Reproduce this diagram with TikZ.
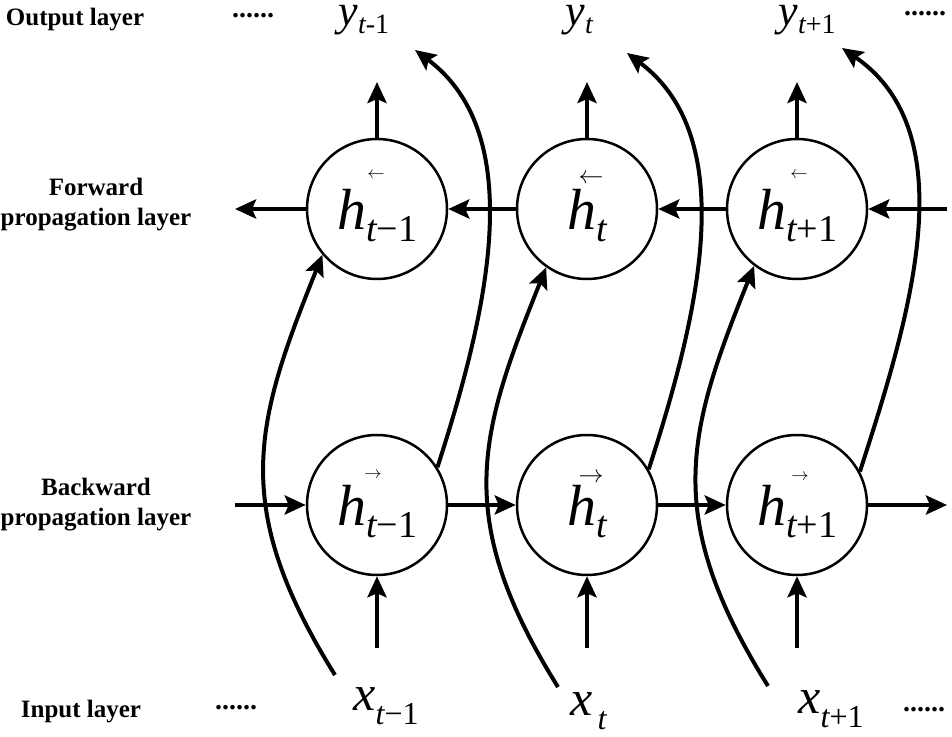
\documentclass[tikz,border=0pt]{standalone}
\usepackage{fontspec}
\setmainfont{Liberation Serif}[
  BoldFont=Liberation Serif Bold,
  ItalicFont=Liberation Serif Italic]
\usetikzlibrary{arrows.meta,positioning}

\newcommand{\hsym}[1]{\rule{0pt}{54pt}{\fontsize{58}{58}\selectfont\itshape h}\raisebox{-12pt}{\fontsize{38}{38}\selectfont #1}}
\newcommand{\xsym}[1]{{\fontsize{50}{50}\selectfont\itshape x}\raisebox{-14pt}{\fontsize{32}{32}\selectfont #1}}
\newcommand{\ysym}[1]{{\fontsize{44}{44}\selectfont\itshape y}\raisebox{-8pt}{\fontsize{28}{28}\selectfont #1}}

\tikzset{
  unit/.style={circle, draw, line width=2.5pt, minimum size=140pt, inner sep=0pt},
  flow/.style={line width=4.5pt, -{Stealth[length=21pt,width=19pt,inset=4pt]}},
  skip/.style={line width=4pt, -{Stealth[length=21pt,width=19pt,inset=4pt]}},
  layername/.style={font=\bfseries\fontsize{25}{30}\selectfont, align=center},
  dots/.style={font=\bfseries\fontsize{28}{28}\selectfont, inner sep=0pt},
  dirmark/.style={inner sep=0pt},
}

\begin{document}
\begin{tikzpicture}[x=1pt,y=1pt]
\useasboundingbox (0,0) rectangle (952,736);

\node[layername] (outname) at (75,716) {Output layer};
\node[layername] (fwdname) at (96,531) {Forward\\propagation layer};
\node[layername] (bwdname) at (96,231) {Backward\\propagation layer};
\node[layername] (inname) at (81,24) {Input layer};

\node[dots] (dtl) at (253,720) {......};
\node[dots] (dtr) at (925,722) {......};
\node[dots] (dbl) at (236,28) {......};
\node[dots] (dbr) at (924,26) {......};

\node[anchor=base west] (y1) at (335,710) {\ysym{{\itshape t}-1}};
\node[anchor=base west] (y2) at (562,710) {\ysym{\itshape t}};
\node[anchor=base west] (y3) at (775,710) {\ysym{{\itshape t}+1}};

\node[anchor=base west] (x1) at (350,26) {\xsym{{\itshape t}−1}};
\node[anchor=base west] (x2) at (567,21) {\xsym{\kern5pt\itshape t}};
\node[anchor=base west] (x3) at (795,23) {\xsym{{\itshape t}+1}};

\node[unit] (f1) at (377,527) {\hsym{{\itshape t}−1}};
\node[unit] (f2) at (587,527) {\hsym{\itshape t}};
\node[unit] (f3) at (797,527) {\hsym{{\itshape t}+1}};
\node[unit] (b1) at (377,231) {\hsym{{\itshape t}−1}};
\node[unit] (b2) at (587,231) {\hsym{\itshape t}};
\node[unit] (b3) at (797,231) {\hsym{{\itshape t}+1}};

\node[dirmark, font=\fontsize{19}{19}\selectfont] (fm1) at (376,561) {$\leftarrow$};
\node[dirmark, font=\fontsize{27}{27}\selectfont] (fm2) at (591,557) {$\leftarrow$};
\node[dirmark, font=\fontsize{16}{16}\selectfont] (fm3) at (799,561) {$\leftarrow$};
\node[dirmark, font=\fontsize{19}{19}\selectfont] (bm1) at (373,261) {$\rightarrow$};
\node[dirmark, font=\fontsize{27}{27}\selectfont] (bm2) at (591,258) {$\rightarrow$};
\node[dirmark, font=\fontsize{16}{16}\selectfont] (bm3) at (800,259) {$\rightarrow$};

\coordinate (fl) at (235,527);
\coordinate (fr) at (947,527);
\coordinate (bl) at (235,231);
\coordinate (br) at (947,231);
\coordinate (fo1) at (377,654);
\coordinate (fo2) at (587,654);
\coordinate (fo3) at (797,654);
\coordinate (bi1) at (377,88);
\coordinate (bi2) at (587,88);
\coordinate (bi3) at (797,88);
\coordinate (xs1) at (335,61);
\coordinate (xs2) at (558,49);
\coordinate (xs3) at (768,50);
\coordinate (ye1) at (415,686);
\coordinate (ye2) at (627,683);
\coordinate (ye3) at (842,688);

\draw[flow] (f1) -- (fl);
\draw[flow] (f2) -- (f1);
\draw[flow] (f3) -- (f2);
\draw[flow] (fr) -- (f3);
\draw[flow] (bl) -- (b1);
\draw[flow] (b1) -- (b2);
\draw[flow] (b2) -- (b3);
\draw[flow] (b3) -- (br);

\draw[flow] (f1) -- (fo1);
\draw[flow] (f2) -- (fo2);
\draw[flow] (f3) -- (fo3);
\draw[flow] (bi1) -- (b1);
\draw[flow] (bi2) -- (b2);
\draw[flow] (bi3) -- (b3);

\draw[skip] (xs1) .. controls +(-106,170) and +(-67,-167) .. (f1.220);
\draw[skip] (xs2) .. controls +(-106,170) and +(-67,-167) .. (f2.235);
\draw[skip] (xs3) .. controls +(-106,170) and +(-67,-167) .. (f3.233);

\draw[skip] (b1.32) .. controls +(49,152) and +(115,-86) .. (ye1);
\draw[skip] (b2.30) .. controls +(49,152) and +(115,-86) .. (ye2);
\draw[skip] (b3.28) .. controls +(49,152) and +(125,-86) .. (ye3);
\end{tikzpicture}
\end{document}
